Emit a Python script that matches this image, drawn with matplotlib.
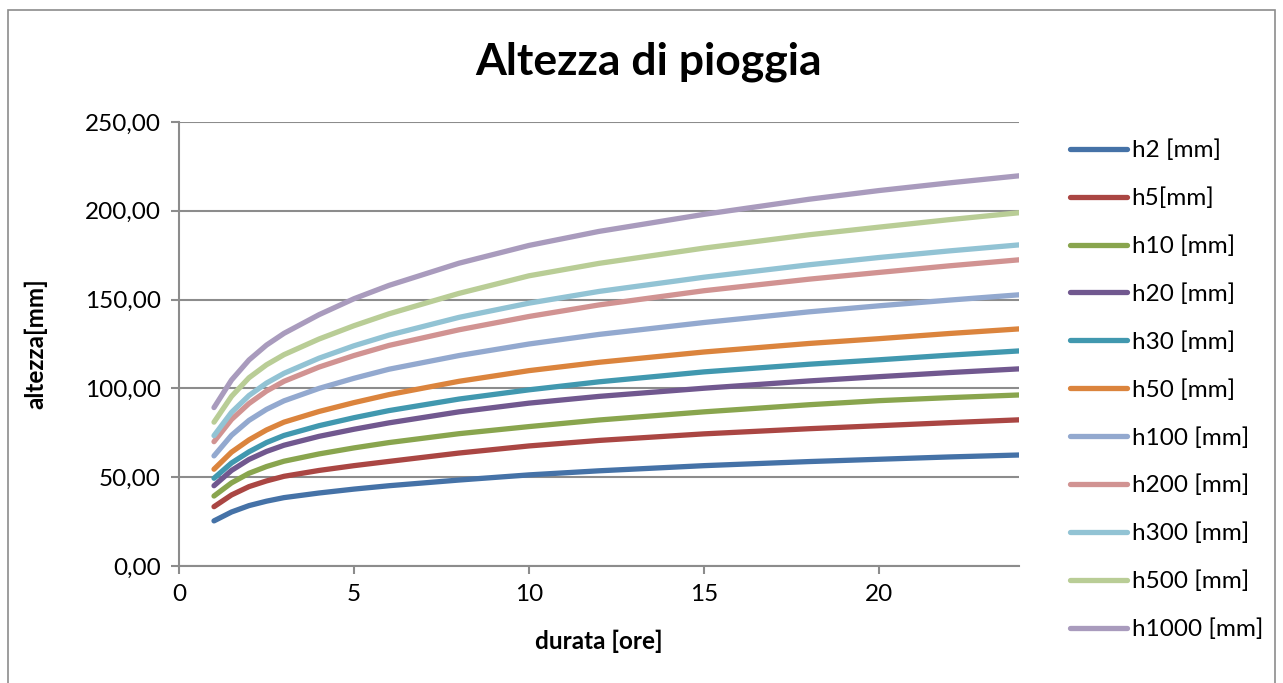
import matplotlib
matplotlib.use('Agg')
import matplotlib.pyplot as plt
from matplotlib.ticker import FuncFormatter, MultipleLocator
from matplotlib.patches import Rectangle

durata = [1, 1.5, 2, 2.5, 3, 4, 5, 6, 8, 10, 12, 15, 18, 20, 22, 24]

# Rain heights [mm] for each return period
h2 = [25.4, 30.4, 34.0, 36.5, 38.5, 41.1, 43.3, 45.2, 48.4, 51.3, 53.6, 56.5, 58.8, 60.1, 61.4, 62.5]
h5 = [33.4, 40.0, 44.7, 47.9, 50.5, 53.8, 56.5, 58.9, 63.6, 67.6, 70.7, 74.4, 77.3, 79.0, 80.7, 82.3]
h10 = [39.4, 46.8, 52.2, 56.0, 59.0, 63.1, 66.5, 69.5, 74.5, 78.5, 82.2, 86.8, 90.8, 93.1, 94.8, 96.3]
h20 = [45.2, 53.8, 60.0, 64.5, 68.0, 73.0, 77.0, 80.6, 86.8, 91.7, 95.5, 100.1, 104.2, 106.6, 108.9, 111.0]
h30 = [49.4, 58.0, 64.3, 69.5, 73.5, 79.0, 83.5, 87.5, 94.0, 99.2, 103.7, 109.3, 113.6, 116.1, 118.7, 121.1]
h50 = [54.5, 64.1, 71.0, 76.6, 81.0, 87.0, 92.0, 96.5, 104.0, 110.0, 114.7, 120.5, 125.3, 128.0, 130.9, 133.5]
h100 = [62.0, 73.6, 82.0, 88.2, 93.0, 100.0, 105.7, 110.8, 118.5, 125.0, 130.4, 137.1, 143.1, 146.5, 149.7, 152.7]
h200 = [70.0, 82.5, 91.5, 98.5, 104.0, 112.0, 118.5, 124.2, 133.0, 140.5, 147.0, 155.0, 161.5, 165.3, 169.0, 172.4]
h300 = [73.4, 86.5, 96.0, 103.0, 108.5, 117.0, 124.0, 130.0, 140.0, 148.0, 154.6, 162.6, 169.6, 173.7, 177.4, 180.8]
h500 = [81.0, 95.5, 106.0, 113.3, 119.0, 127.8, 135.3, 142.0, 153.5, 163.4, 170.4, 179.0, 186.5, 190.8, 195.0, 198.9]
h1000 = [89.2, 104.7, 116.0, 124.4, 131.0, 141.5, 150.5, 158.0, 170.5, 180.5, 188.4, 198.0, 206.5, 211.4, 215.7, 219.7]

series = [h2, h5, h10, h20, h30, h50, h100, h200, h300, h500, h1000]
labels = ['h2 [mm]', 'h5[mm]', 'h10 [mm]', 'h20 [mm]', 'h30 [mm]', 'h50 [mm]',
          'h100 [mm]', 'h200 [mm]', 'h300 [mm]', 'h500 [mm]', 'h1000 [mm]']
colors = ['#4572A7', '#AA4643', '#89A54E', '#71588F', '#4198AF', '#DB843D',
          '#93A9CF', '#D19392', '#92C3D4', '#B9CD96', '#A99BBD']

plt.rcParams['font.family'] = ['Lato', 'DejaVu Sans']

fig = plt.figure(figsize=(12.83, 6.83), dpi=100)
ax = fig.add_axes([179 / 1283, 117 / 683, 840 / 1283, 444 / 683])

# Outer chart border
fig.patches.append(Rectangle((8 / 1283, -0.02), 1267 / 1283, 1.02 - 10 / 683,
                             transform=fig.transFigure, fill=False,
                             edgecolor='#8c8c8c', linewidth=1.2))

for y, lab, col in zip(series, labels, colors):
    ax.plot(durata, y, color=col, linewidth=3.8, label=lab,
            solid_capstyle='round', solid_joinstyle='round')

ax.set_xlim(0, 24)
ax.set_ylim(0, 250)
ax.xaxis.set_major_locator(MultipleLocator(5))
ax.yaxis.set_major_locator(MultipleLocator(50))
ax.yaxis.set_major_formatter(FuncFormatter(lambda v, p: f'{v:.2f}'.replace('.', ',')))

ax.grid(axis='y', color='#8c8c8c', linewidth=1.5)
ax.set_axisbelow(True)
for side in ['top', 'right']:
    ax.spines[side].set_visible(False)
for side in ['left', 'bottom']:
    ax.spines[side].set_color('#8c8c8c')
    ax.spines[side].set_linewidth(1.5)
ax.tick_params(axis='both', colors='#8c8c8c', length=6, width=1.5, labelsize=17.5,
               labelcolor='black', pad=7)

ax.set_xlabel('durata [ore]', fontsize=17.5, fontweight='bold', labelpad=18)
ax.set_ylabel('altezza[mm]', fontsize=17.5, fontweight='bold', labelpad=27)
fig.text(649 / 1283, 1 - 62 / 683, 'Altezza di pioggia', fontsize=32,
         fontweight='bold', ha='center', va='center')

ax.legend(loc='upper left', bbox_to_anchor=(1060 / 1283, 1 - 130 / 683),
          bbox_transform=fig.transFigure, frameon=False, fontsize=17.5,
          handlelength=2.35, handletextpad=0.2, labelspacing=1.08,
          borderaxespad=0)

fig.savefig('out.png', dpi=100)
